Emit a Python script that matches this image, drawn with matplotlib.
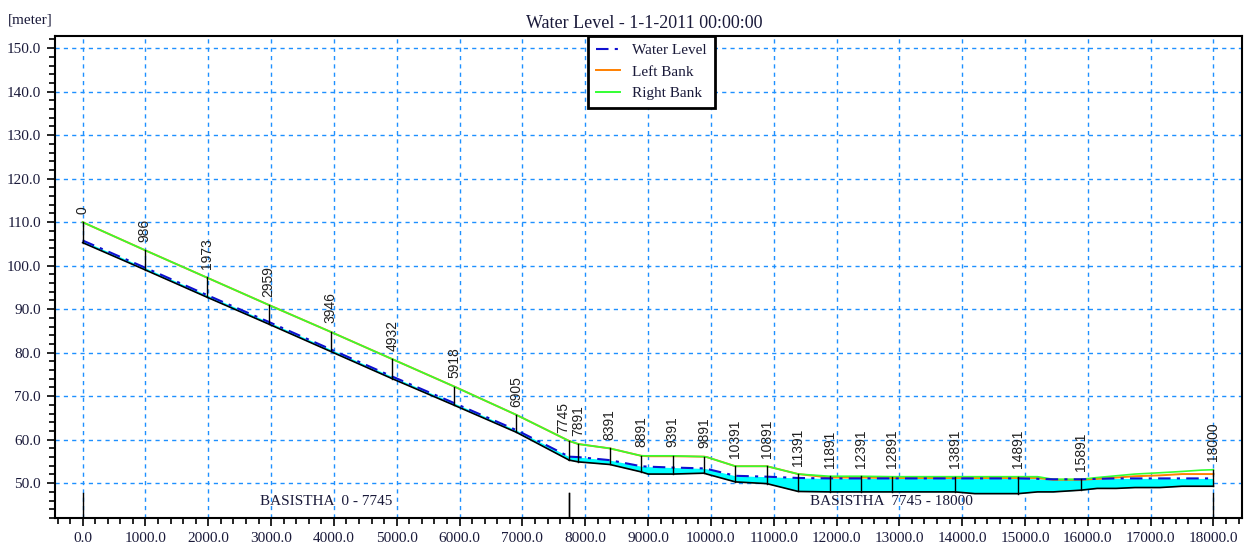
import matplotlib.pyplot as plt
import numpy as np
from matplotlib.ticker import MultipleLocator, FormatStrFormatter

# branch 1: BASISTHA 0 - 7745 (cross sections)
ch_b1 = [0, 986, 1973, 2959, 3946, 4932, 5918, 6905, 7745]
bed_b1 = [105.3, 99.1, 92.8, 86.6, 80.3, 74.0, 67.9, 61.7, 55.3]
wl_b1 = [105.8, 99.6, 93.3, 87.1, 80.8, 74.5, 68.4, 62.2, 56.1]
rb_b1 = [110.0, 103.6, 97.3, 91.0, 84.8, 78.5, 72.2, 65.7, 59.7]
lb_b1 = [110.0, 103.6, 97.3, 91.0, 84.8, 78.5, 72.2, 65.7, 59.7]

# branch 2: BASISTHA 7745 - 18000 (profile points)
ch_b2 = [7745, 7891, 8391, 8891, 9000, 9391, 9891, 9935, 10391, 10891, 11391, 11891,
         12391, 12891, 13891, 14200, 14891, 15200, 15450, 15891, 16150, 16450, 16750,
         17150, 17500, 17800, 18000]
bed_b2 = [55.3, 54.9, 54.3, 52.6, 52.1, 52.1, 52.3, 52.1, 50.3, 49.9, 48.1, 48.0,
          48.0, 48.0, 48.0, 47.6, 47.6, 48.0, 48.0, 48.4, 48.8, 48.8, 49.0,
          49.0, 49.3, 49.3, 49.3]
wl_b2 = [56.1, 56.0, 55.3, 53.9, 53.8, 53.6, 53.4, 53.3, 51.7, 51.5, 51.2, 51.1,
         51.1, 51.1, 51.1, 51.1, 51.1, 51.0, 50.9, 50.9, 51.0, 51.1, 51.1,
         51.1, 51.1, 51.1, 51.1]
rb_b2 = [59.7, 59.0, 58.0, 56.3, 56.3, 56.3, 56.1, 56.0, 53.9, 53.9, 52.1, 51.6,
         51.6, 51.5, 51.5, 51.5, 51.5, 51.5, 50.9, 50.9, 51.3, 51.7, 52.1,
         52.4, 52.7, 53.0, 53.1]
lb_b2 = [59.7, 59.0, 58.0, 56.3, 56.2, 56.2, 56.1, 56.0, 53.9, 53.9, 52.1, 51.3,
         51.3, 51.2, 51.2, 51.2, 51.2, 51.2, 50.8, 50.8, 51.0, 51.3, 51.6,
         51.8, 52.1, 52.1, 52.1]

# cross section chainages shown with labels (branch 2)
xs_b2 = [7891, 8391, 8891, 9391, 9891, 10391, 10891, 11391, 11891, 12391, 12891,
         13891, 14891, 15891, 18000]

branches = [("BASISTHA  0 - 7745", 0, 7745), ("BASISTHA  7745 - 18000", 7745, 18000)]

SERIF = "Liberation Serif"
TXT = "#1a1a3a"

fig = plt.figure(figsize=(12.48, 5.48), dpi=100)
ax = fig.add_axes([55 / 1248, 1 - 518 / 548, (1241.7 - 55) / 1248, (518 - 36) / 548])
ax.set_xlim(-440, 18450)
ax.set_ylim(42.0, 152.8)

ax.grid(True, which="major", color="#1E90FF", linestyle=(0, (3, 3)), linewidth=1.0, zorder=0)

for ch, bed, wl, rb, lb in [(ch_b1, bed_b1, wl_b1, rb_b1, lb_b1),
                             (ch_b2, bed_b2, wl_b2, rb_b2, lb_b2)]:
    ax.fill_between(ch, bed, wl, color="#00FFFF", linewidth=0, zorder=2)
    ax.plot(ch, bed, color="black", linewidth=1.2, zorder=3)
    ax.plot(ch, lb, color="#FF8000", linewidth=1.4, zorder=4)
    ax.plot(ch, rb, color="#33FF33", linewidth=1.2, zorder=4)
    ax.plot(ch, wl, color="#1010D0", linewidth=1.5, linestyle=(0, (6, 3, 1.5, 3)), zorder=5)

# cross section verticals and labels
xs_all = [(c, b, max(r, l)) for c, b, r, l in zip(ch_b1, bed_b1, rb_b1, lb_b1)]
for c in xs_b2:
    i = ch_b2.index(c)
    xs_all.append((c, bed_b2[i], max(rb_b2[i], lb_b2[i])))
for c, b, top in xs_all:
    ax.plot([c, c], [b, top], color="black", linewidth=1.0, zorder=6)
    dx = -4 if c == 7745 else 0  # the two labels at the branch junction crowd each other
    ax.annotate(str(c), (c, top), xytext=(dx, 6), textcoords="offset points",
                rotation=90, ha="center", va="bottom", fontsize=10,
                family="Liberation Sans", color="#202020")

# branch markers and names
for name, start, end in branches:
    for c in (start, end):
        ax.plot([c, c], [42.0, 47.8], color="black", linewidth=1.0, zorder=6)
    ax.text((start + end) / 2, 45.8, name, ha="center", va="center",
            fontsize=11, family=SERIF, color=TXT)

ax.xaxis.set_major_locator(MultipleLocator(1000))
ax.xaxis.set_minor_locator(MultipleLocator(200))
ax.yaxis.set_major_locator(MultipleLocator(10))
ax.yaxis.set_minor_locator(MultipleLocator(2))
ax.xaxis.set_major_formatter(FormatStrFormatter("%.1f"))
ax.yaxis.set_major_formatter(FormatStrFormatter("%.1f"))
ax.tick_params(which="major", direction="out", length=6, width=1.2, labelsize=11,
               labelcolor=TXT, pad=4)
ax.tick_params(which="minor", direction="out", length=4, width=1.2)
for lab in ax.get_xticklabels() + ax.get_yticklabels():
    lab.set_family(SERIF)
for s in ax.spines.values():
    s.set_linewidth(1.5)

# legend
h1, = ax.plot([], [], color="#1010D0", linewidth=1.5, linestyle=(0, (6, 3, 1.5, 3)))
h2, = ax.plot([], [], color="#FF8000", linewidth=1.4)
h3, = ax.plot([], [], color="#33FF33", linewidth=1.4)
leg = ax.legend([h1, h2, h3], ["Water Level", "Left Bank", "Right Bank"],
                loc="upper left", bbox_to_anchor=((588 - 55) / 1186.7, 1.0),
                borderaxespad=0, fancybox=False, framealpha=1, handlelength=1.6,
                labelspacing=0.5, borderpad=0.5, handletextpad=0.8,
                prop={"family": SERIF, "size": 11})
leg.get_frame().set_edgecolor("black")
leg.get_frame().set_linewidth(2)
leg.set_zorder(10)
for t in leg.get_texts():
    t.set_color(TXT)

fig.text(644 / 1248, 1 - 24 / 548, "Water Level - 1-1-2011 00:00:00", ha="center",
         va="center", fontsize=13, family=SERIF, color=TXT)
fig.text(8 / 1248, 1 - 20 / 548, "[meter]", ha="left", va="center", fontsize=11,
         family=SERIF, color=TXT)

fig.savefig("out.png", dpi=100)
